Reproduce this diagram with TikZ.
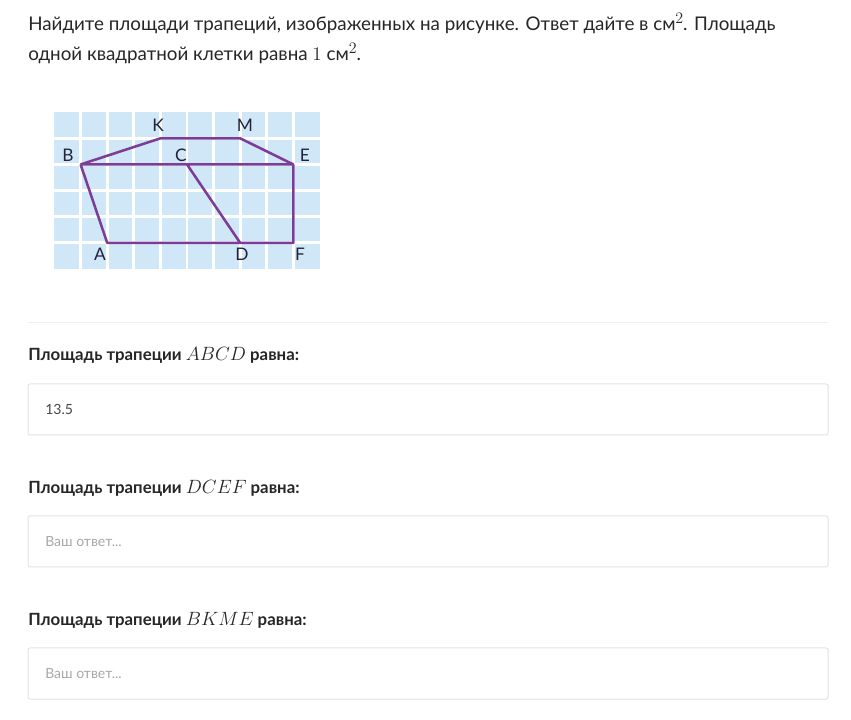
\documentclass[tikz,border=0pt]{standalone}
\usepackage{fontspec}
\setmainfont{Lato}
\usetikzlibrary{positioning}
\definecolor{cellblue}{HTML}{CFE7F6}
\definecolor{trapline}{HTML}{7D3C98}
\definecolor{txt}{HTML}{262626}
\definecolor{boxline}{HTML}{E3E3E3}
\definecolor{hint}{HTML}{A8A8A8}
\newcommand{\sqsup}{\raisebox{0.8ex}{\fontsize{12}{12}\selectfont$2$}}
\newcommand{\trapname}[1]{{\fontsize{14.5}{14}\selectfont$#1$}}

\begin{document}
\begin{tikzpicture}[x=0.75pt,y=-0.75pt,
    title/.style={anchor=base west,font=\fontsize{14.1}{16}\selectfont,text=txt,inner sep=0},
    ask/.style={anchor=base west,font=\fontsize{12.6}{14}\selectfont\bfseries,text=txt,inner sep=0},
    answerbox/.style={draw=boxline,line width=0.75pt,rounded corners=1.5pt,minimum width=600pt,minimum height=38.25pt,inner sep=0},
    answer/.style={anchor=base west,font=\fontsize{10.5}{12}\selectfont,inner sep=0},
    ptlabel/.style={font=\fontsize{13}{14}\selectfont,text=txt!90!blue,inner sep=0}]
    \useasboundingbox[fill=white] (0,0) rectangle (851,720);

    \node[title] (line1) at (28,31) {Найдите площади трапеций, изображенных на рисунке. Ответ дайте в см\sqsup. Площадь};
    \node[title] (line2) at (28,61) {одной квадратной клетки равна $1$ см\sqsup.};

    % grid and trapezoids
    \begin{scope}[shift={(54,269)},x=19.95pt,y=19.6pt]
        \fill[cellblue] (0,0) rectangle (10,6);
        \foreach \i in {1,...,9} \draw[white,line width=2.2pt] (\i,0) -- (\i,6);
        \foreach \j in {1,...,5} \draw[white,line width=2.2pt] (0,\j) -- (10,\j);
        \coordinate (A) at (2,1);
        \coordinate (B) at (1,4);
        \coordinate (C) at (5,4);
        \coordinate (D) at (7,1);
        \coordinate (E) at (9,4);
        \coordinate (F) at (9,1);
        \coordinate (K) at (4,5);
        \coordinate (M) at (7,5);
        \draw[trapline,line width=1.9pt,line join=round]
            (B) -- (K) -- (M) -- (E) (B) -- (E)
            (B) -- (A) -- (D) -- (F) -- (E) (C) -- (D);
    \end{scope}
    \node[ptlabel] (lK) at (158,125) {K};
    \node[ptlabel] (lM) at (245,125) {M};
    \node[ptlabel] (lB) at (68,155) {B};
    \node[ptlabel] (lC) at (181,155) {C};
    \node[ptlabel] (lE) at (305,155) {E};
    \node[ptlabel] (lA) at (100,254) {A};
    \node[ptlabel] (lD) at (242,254) {D};
    \node[ptlabel] (lF) at (300,254) {F};

    \draw[boxline!60,line width=0.75pt] (28,323) -- (828,323);

    % questions
    \node[ask] (q1) at (28,361) {Площадь трапеции \trapname{ABCD} равна:};
    \node[answerbox] (box1) at (428,409.5) {};
    \node[answer,text=txt!85] (a1) at (45,415) {13.5};

    \node[ask] (q2) at (28,494) {Площадь трапеции \trapname{DCEF} равна:};
    \node[answerbox] (box2) at (428,541.5) {};
    \node[answer,text=hint] (a2) at (45,547) {Ваш ответ...};

    \node[ask] (q3) at (28,626) {Площадь трапеции \trapname{BKME} равна:};
    \node[answerbox] (box3) at (428,673.5) {};
    \node[answer,text=hint] (a3) at (45,679) {Ваш ответ...};
\end{tikzpicture}
\end{document}
